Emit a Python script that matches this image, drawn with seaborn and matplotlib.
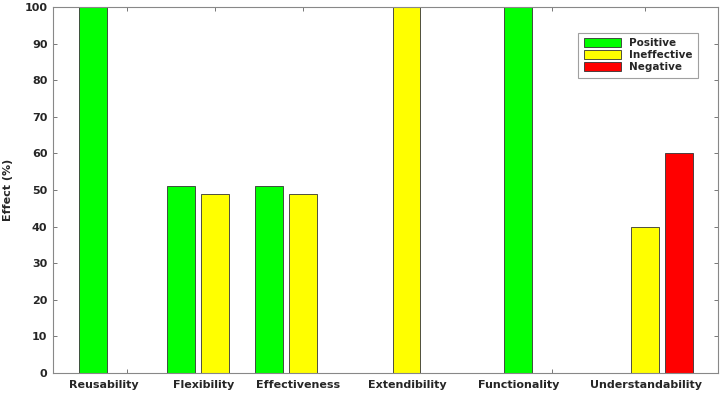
import numpy as np
import pandas as pd
import matplotlib
matplotlib.use("Agg")
import matplotlib.pyplot as plt
import seaborn as sns

sns.set_style("white")
plt.rcParams['font.family'] = ['DejaVu Sans']

# data
categories = ['Reusability', 'Flexibility', 'Effectiveness',
              'Extendibility', 'Functionality', 'Understandability']
series = ['Positive', 'Ineffective', 'Negative']
positive = [100, 51, 51, 0, 100, 0]
ineffective = [0, 49, 49, 100, 0, 40]
negative = [0, 0, 0, 0, 0, 60]
y_ticks = list(range(0, 101, 10))

# layout (group centres and label centres, x units, uneven as in the original)
group_pos = [1.0, 2.0, 3.0, 4.18, 5.83, 6.886]
label_pos = [0.739, 1.875, 2.943, 4.182, 5.455, 6.898]
colors = {'Positive': '#00ff00', 'Ineffective': '#ffff00', 'Negative': '#ff0000'}

rows = []
for s, vals in zip(series, [positive, ineffective, negative]):
    for c, x, v in zip(categories, group_pos, vals):
        rows.append({'Category': c, 'x': x, 'Series': s, 'Effect': v})
df = pd.DataFrame(rows)
df = df[df['Effect'] > 0]

fig = plt.figure(figsize=(7.26, 3.96), dpi=100)
ax = fig.add_axes([53 / 726, 23 / 396, 665 / 726, 366 / 396])

sns.barplot(data=df, x='x', y='Effect', hue='Series', hue_order=series,
            palette=colors, saturation=1, native_scale=True, width=1.16, gap=0.2,
            edgecolor='#333333', linewidth=0.6, ax=ax)

ax.set_xlim(0.16, 7.716)
ax.set_ylim(0, 100)
ax.set_yticks(y_ticks)
ax.set_yticklabels([str(t) for t in y_ticks], fontsize=8, fontweight='bold')

ax.set_xticks(group_pos)
ax.set_xticklabels([])
ax.set_xticks(label_pos, minor=True)
ax.set_xticklabels(categories, minor=True, fontsize=8, fontweight='bold')
ax.tick_params(axis='x', which='minor', length=0, pad=5)
ax.tick_params(which='major', direction='in', length=3, width=0.7,
               color='#777777', top=True, right=True, left=True, bottom=True)
ax.tick_params(axis='y', pad=4)

ax.set_xlabel('')
ax.set_ylabel('Effect (%)', fontsize=8, fontweight='bold', labelpad=8)

for sp in ax.spines.values():
    sp.set_visible(True)
    sp.set_color('#888888')
    sp.set_linewidth(0.8)

leg = ax.legend(loc='upper right', bbox_to_anchor=(0.97, 0.929),
                prop={'weight': 'bold', 'size': 7.5}, frameon=True, fancybox=False,
                edgecolor='#888888', handlelength=3.6, handleheight=0.9,
                labelspacing=0.2, borderpad=0.5, handletextpad=0.8,
                borderaxespad=0)
leg.get_frame().set_linewidth(0.8)

fig.savefig('out.png', dpi=100)
